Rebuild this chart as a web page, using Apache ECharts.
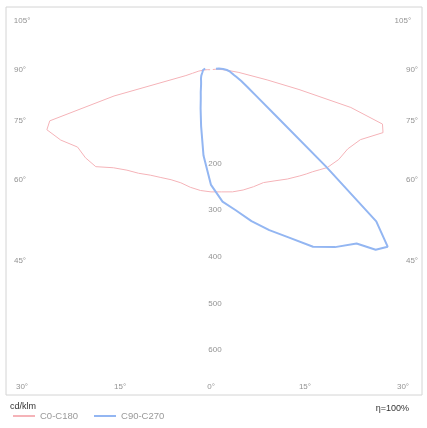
<!DOCTYPE html>
<html><head><meta charset="utf-8">
<script src="https://cdn.jsdelivr.net/npm/echarts@6/dist/echarts.min.js"></script>
<style>html,body{margin:0;padding:0;background:#fff}#c{width:427px;height:428px}</style>
</head><body><div id="c"></div>
<script>
// angles in degrees from nadir (0 = straight down); negative = C180 / C270 side
const angles = [-105,-100,-95,-90,-85,-80,-77.5,-75,-72.5,-70,-65,-60,-55,-50,-45,-40,-35,-30,-25,-20,-15,-10,-5,0,5,10,15,20,25,30,35,40,42.5,45,47.5,50,55,60,65,70,72.5,75,77.5,80,85,90,95,100,105];
// luminous intensity, cd/klm
const c0c180 = [2,4,8,15,26,40,55,215,362,374,355,330,328,322,296,280,270,260,254,250,250,255,259,261,262,265,266,266,266,274,285,296,302,308,316,325,334,338,353,392,385,310,193,122,60,32,17,9,4];
const c90c270 = [13,14,15,17,18,19,19,19,20,20,21,24,26,28,30,33,37,43,52,64,86,122,184,246,283,305,335,365,396,437,463,485,522,535,480,321,167,113,86,69,62,56,51,47,41,34,26,17,11];
const seriesNames = ['C0-C180','C90-C270'];
const ringValues = [200,300,400,500,600];
const angleTicks = [105,90,75,60,45,30,15,0];
const unitLabel = 'cd/klm';
const effLabel = 'η=100%';

const K = 100/46.7; // data units per pixel (equal aspect)
const G = {left:6, right:5, top:7, bottom:33};
const W = 427 - G.left - G.right, H = 428 - G.top - G.bottom;
const cx = 205, cy = 63; // polar centre offset inside grid (px)
const xMin = -cx*K, xMax = (W-cx)*K, yMax = cy*K, yMin = -(H-cy)*K;

function toXY(a, r){ const t=a*Math.PI/180; return [r*Math.sin(t), -r*Math.cos(t)]; }
const redData = angles.map((a,i)=>toXY(a,c0c180[i]));
const blueData = angles.map((a,i)=>toXY(a,c90c270[i]));

// angle labels on the frame (symmetric spoke intersections)
const lab = [];
const half = (cx-14)*K;
angleTicks.forEach(t=>{
  [1,-1].forEach(sg=>{
    if(t===0 && sg<0) return;
    const th=t*Math.PI/180, sx=Math.sin(th)*sg, sy=-Math.cos(th);
    const yl = sy<0 ? yMin+8*K : yMax-14*K;
    let s = Infinity, side=false;
    if(Math.abs(sx)>1e-6){ const s1=half/Math.abs(sx); if(s1<s){s=s1; side=true;} }
    if(Math.abs(sy)>1e-6){ const s2=yl/sy; if(s2<s){s=s2; side=false;} }
    let p=[s*sx, s*sy];
    if(side && sg>0) p[0]=xMax-10*K;
    const bottom = !side;
    lab.push({value:p, label:{offset:[bottom && t!==0 ? (sg>0?9:-6):0,0]}, name:t+'°'});
  });
});
const ringLab = ringValues.map(v=>({value:[0,-v], name:String(v)}));

const chart = echarts.init(document.getElementById('c'));
chart.setOption({
  animation:false,
  grid:{left:G.left,right:G.right,top:G.top,bottom:G.bottom,show:true,borderColor:'#d4d4d4',borderWidth:1},
  xAxis:{type:'value',min:xMin,max:xMax,show:false},
  yAxis:{type:'value',min:yMin,max:yMax,show:false},
  legend:{left:8,bottom:2,itemWidth:22,itemHeight:2,itemGap:16,icon:'rect',
    textStyle:{fontSize:9.5,color:'#999',fontFamily:'Liberation Sans'},data:seriesNames},
  graphic:[
    {type:'text',left:10,top:402,style:{text:unitLabel,fontSize:9,fill:'#333',fontFamily:'Liberation Sans'}},
    {type:'text',right:18,top:404,style:{text:effLabel,fontSize:9,fill:'#333',fontFamily:'Liberation Sans'}}
  ],
  series:[
    {name:seriesNames[0],type:'line',data:redData,showSymbol:false,smooth:false,
      lineStyle:{color:'#f5b3b8',width:1},itemStyle:{color:'#f5b3b8'}},
    {name:seriesNames[1],type:'line',data:blueData,showSymbol:false,smooth:false,
      lineStyle:{color:'#93b6f2',width:2},itemStyle:{color:'#93b6f2'}},
    {type:'scatter',data:lab,symbolSize:0,silent:true,
      label:{show:true,position:'inside',formatter:p=>p.name,fontSize:8,color:'#777',fontFamily:'Liberation Sans'}},
    {type:'scatter',data:ringLab,symbolSize:0,silent:true,
      label:{show:true,position:'inside',offset:[4,0],formatter:p=>p.name,fontSize:8,color:'#777',fontFamily:'Liberation Sans'}}
  ]
});
</script></body></html>
